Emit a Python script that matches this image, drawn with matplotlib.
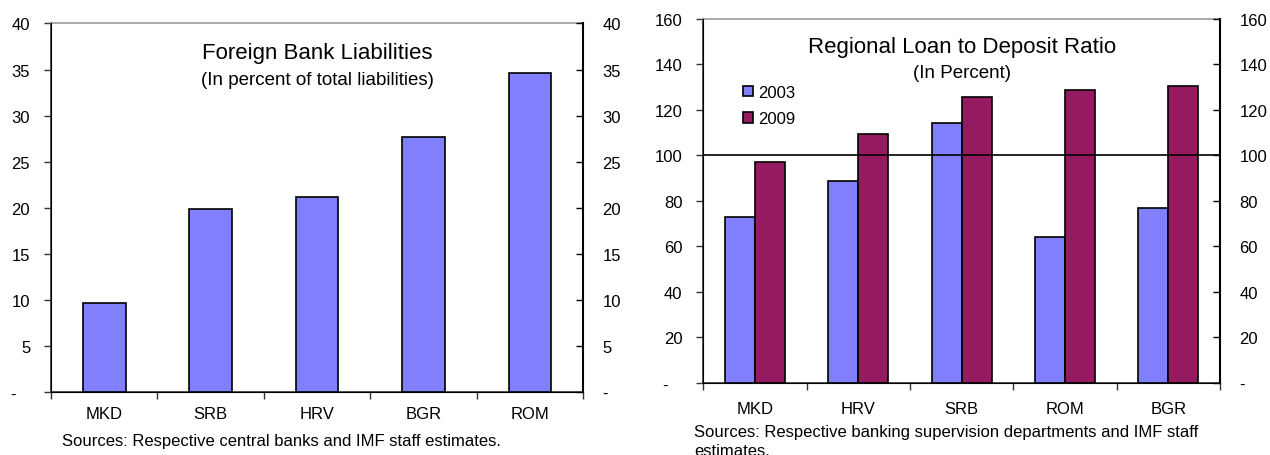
import matplotlib.pyplot as plt
import numpy as np

plt.rcParams['font.family'] = ['Liberation Sans', 'DejaVu Sans']

# Foreign bank liabilities, percent of total liabilities
fbl_countries = ["MKD", "SRB", "HRV", "BGR", "ROM"]
fbl_values = [9.6, 19.9, 21.2, 27.7, 34.6]

# Loan to deposit ratio, percent
ldr_countries = ["MKD", "HRV", "SRB", "ROM", "BGR"]
ldr_2003 = [73, 88.5, 114, 64, 77]
ldr_2009 = [97, 109.5, 125.5, 128.5, 130.5]

BLUE = "#8080ff"
PLUM = "#961a5f"
FS = 12


def style_axes(ax, ticks):
    # zero is shown as a dash, Excel style
    left_labels = ["-   " if t == 0 else str(t) for t in ticks]
    right_labels = ["-" if t == 0 else str(t) for t in ticks]
    ax.set_yticks(ticks)
    ax.set_yticklabels(left_labels, fontsize=FS)
    ax.tick_params(axis="y", direction="out", length=5, width=1.0, pad=10,
                   color="#333333")
    ax.spines["top"].set_color("#999999")
    ax.spines["left"].set_color("#333333")
    ax.spines["bottom"].set_color("#333333")
    for s in ("left", "bottom", "right", "top"):
        ax.spines[s].set_linewidth(1.2)
    ax2 = ax.twinx()
    ax2.set_ylim(ax.get_ylim())
    ax2.set_yticks(ticks)
    ax2.set_yticklabels(right_labels, fontsize=FS)
    ax2.tick_params(axis="y", direction="in", length=5, width=1.0, pad=14)
    ax2.spines["top"].set_visible(False)
    ax2.spines["right"].set_linewidth(1.5)
    return ax2


def category_axis(ax, names, pad):
    n = len(names)
    x = np.arange(n)
    ax.set_xlim(-0.5, n - 0.5)
    ax.set_xticks(np.arange(n + 1) - 0.5)
    ax.set_xticklabels([""] * (n + 1))
    ax.set_xticks(x, minor=True)
    ax.set_xticklabels(names, minor=True, fontsize=FS)
    ax.tick_params(axis="x", which="major", direction="out", length=5, width=1.0,
                   color="#333333")
    ax.tick_params(axis="x", which="minor", length=0, pad=pad)
    return x


fig = plt.figure(figsize=(12.7, 4.56), dpi=100)

# Left panel
ax1 = fig.add_axes([0.0402, 0.1388, 0.4189, 0.8075])
x = category_axis(ax1, fbl_countries, pad=10)
ax1.bar(x, fbl_values, width=0.4, color=BLUE, edgecolor="black", linewidth=1.2, zorder=3)
ax1.set_ylim(0, 40)
style_axes(ax1, list(range(0, 41, 5)))
ax1.text(0.5, 0.922, "Foreign Bank Liabilities", transform=ax1.transAxes,
         ha="center", va="center", fontsize=16)
ax1.text(0.5, 0.848, "(In percent of total liabilities)", transform=ax1.transAxes,
         ha="center", va="center", fontsize=13.5)
fig.text(0.0488, 0.021, "Sources: Respective central banks and IMF staff estimates.",
         fontsize=FS, ha="left", va="baseline")

# Right panel
ax3 = fig.add_axes([0.5538, 0.158, 0.4069, 0.799])
x = category_axis(ax3, ldr_countries, pad=13)
w = 0.29
ax3.bar(x - w / 2, ldr_2003, width=w, color=BLUE, edgecolor="black",
        linewidth=1.2, zorder=3, label="2003")
ax3.bar(x + w / 2, ldr_2009, width=w, color=PLUM, edgecolor="black",
        linewidth=1.2, zorder=3, label="2009")
ax3.axhline(100, color="black", linewidth=1.2, zorder=4)
ax3.set_ylim(0, 160)
style_axes(ax3, list(range(0, 161, 20)))
ax3.text(0.5, 0.924, "Regional Loan to Deposit Ratio", transform=ax3.transAxes,
         ha="center", va="center", fontsize=16)
ax3.text(0.5, 0.853, "(In Percent)", transform=ax3.transAxes,
         ha="center", va="center", fontsize=13.5)
ax3.legend(loc="upper left", bbox_to_anchor=(0.077, 0.818), frameon=False,
           fontsize=FS, handlelength=0.6, handleheight=0.6, handletextpad=0.3,
           labelspacing=0.68, borderaxespad=0, borderpad=0)
fig.text(0.5465, 0.042, "Sources: Respective banking supervision departments and IMF staff",
         fontsize=FS, ha="left", va="baseline")
fig.text(0.5465, 0.0, "estimates.", fontsize=FS, ha="left", va="baseline")

fig.savefig("out.png", dpi=100)
